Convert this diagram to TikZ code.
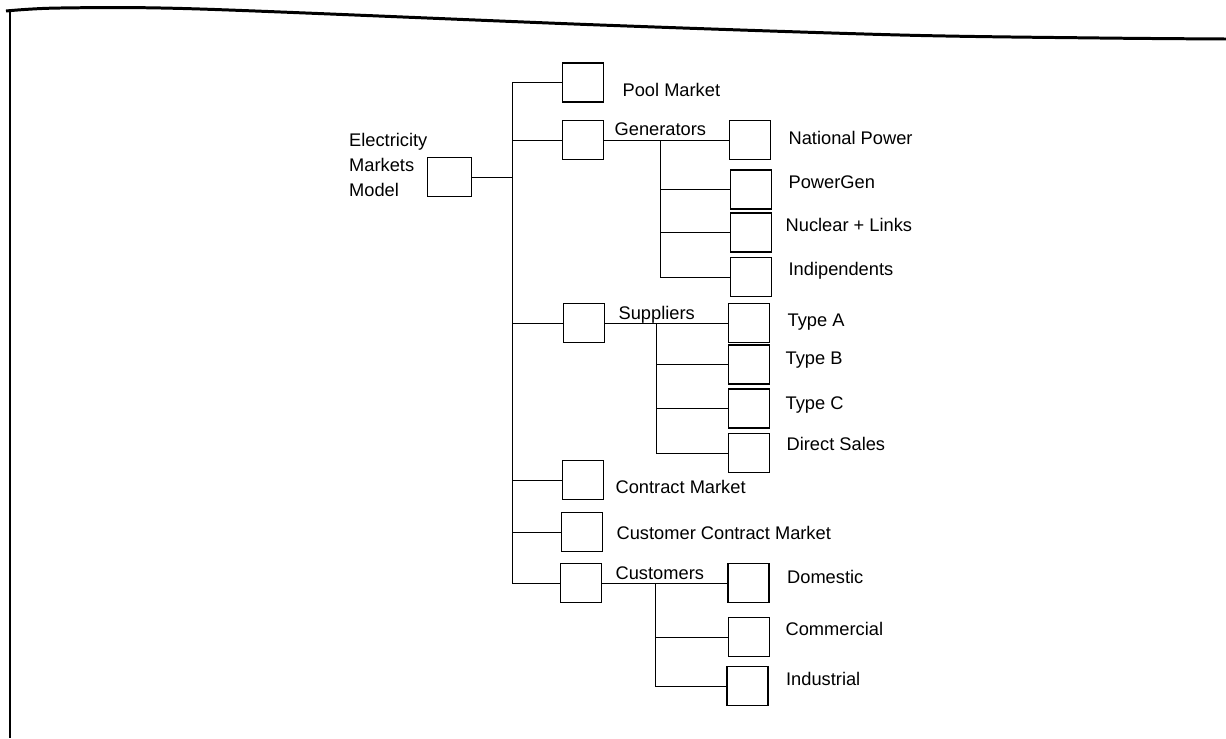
\documentclass[tikz,border=0pt]{standalone}
\usepackage{fontspec}
\setmainfont{Liberation Sans}
\usetikzlibrary{positioning}

\begin{document}
\begin{tikzpicture}[x=0.02cm,y=-0.02cm,
  box/.style={draw,line width=0.9pt,minimum width=8.2mm,minimum height=7.8mm,inner sep=0pt},
  txt/.style={font=\fontsize{10.4}{14.2}\selectfont,inner sep=0pt},
  lbl/.style={txt,text height=7.5pt,text depth=0pt},
  ln/.style={line width=0.45pt},
  frm/.style={line width=1.7pt}]
\useasboundingbox (0,0) rectangle (1226,738);
% scanned page edge
\draw[frm] plot[smooth] coordinates {(6,11) (60,8) (200,9) (600,25) (900,35) (1100,38) (1226,39)};
\draw[frm] (10,10) -- (10,738);
% model and its parts
\node[box,minimum width=8.8mm] (root) at (449.5,177) {};
\node[txt,align=left,anchor=north east,xshift=0.2mm,yshift=4.8mm] (rootlbl) at (root.north west) {Electricity\\Markets\\Model};
\node[box] (pool) at (583,82.5) {};
\node[box] (gen) at (583,140) {};
\node[box] (sup) at (584,323) {};
\node[box] (con) at (583,480) {};
\node[box] (ccm) at (582,532) {};
\node[box] (cust) at (581,583) {};
\node[lbl,right=3.6mm of pool,yshift=-1.5mm] (poollbl) {Pool Market};
\node[lbl,right=2mm of gen,yshift=2.2mm] (genlbl) {Generators};
\node[lbl,right=2.6mm of sup,yshift=2mm] (suplbl) {Suppliers};
\node[lbl,right=2.2mm of con,yshift=-1.4mm] (conlbl) {Contract Market};
\node[lbl,right=2.6mm of ccm,yshift=-0.2mm] (ccmlbl) {Customer Contract Market};
\node[lbl,right=2.6mm of cust,yshift=2mm] (custlbl) {Customers};
% generators
\node[box] (np) at (750,140) {};
\node[box] (pg) at (751,189.5) {};
\node[box] (nuc) at (751,232.5) {};
\node[box] (ind) at (751,277) {};
\node[lbl,right=3.4mm of np,yshift=0.4mm] (nplbl) {National Power};
\node[lbl,right=3.2mm of pg,yshift=1.5mm] (pglbl) {PowerGen};
\node[lbl,right=2.6mm of nuc,yshift=1.5mm] (nuclbl) {Nuclear + Links};
\node[lbl,right=3.2mm of ind,yshift=1.6mm] (indlbl) {Indipendents};
% suppliers
\node[box] (ta) at (749,323) {};
\node[box] (tb) at (749,364.5) {};
\node[box] (tc) at (749,408.5) {};
\node[box] (ds) at (749,453) {};
\node[lbl,right=3.4mm of ta,yshift=0.6mm] (talbl) {Type A};
\node[lbl,right=3mm of tb,yshift=1.3mm] (tblbl) {Type B};
\node[lbl,right=3mm of tc,yshift=1.1mm] (tclbl) {Type C};
\node[lbl,right=3.2mm of ds,yshift=1.8mm] (dslbl) {Direct Sales};
% customers
\node[box] (dom) at (748.5,583) {};
\node[box] (com) at (749,637) {};
\node[box] (indu) at (747.5,686) {};
\node[lbl,right=3.4mm of dom,yshift=1.2mm] (domlbl) {Domestic};
\node[lbl,right=3mm of com,yshift=1.6mm] (comlbl) {Commercial};
\node[lbl,right=3.4mm of indu,yshift=1.4mm] (indulbl) {Industrial};
% tree lines
\coordinate (trunk) at (512,0);
\coordinate (gtrunk) at (660,0);
\coordinate (strunk) at (656,0);
\coordinate (ctrunk) at (655,0);
\draw[ln] (root.east) -- (root.east -| trunk);
\draw[ln] (pool.west -| trunk) -- (cust.west -| trunk);
\draw[ln] (pool.west -| trunk) -- (pool.west);
\draw[ln] (gen.west -| trunk) -- (gen.west);
\draw[ln] (sup.west -| trunk) -- (sup.west);
\draw[ln] (con.west -| trunk) -- (con.west);
\draw[ln] (ccm.west -| trunk) -- (ccm.west);
\draw[ln] (cust.west -| trunk) -- (cust.west);
\draw[ln] (gen.east) -- (np.west);
\draw[ln] (gen.east -| gtrunk) |- (ind.west);
\draw[ln] (pg.west -| gtrunk) -- (pg.west);
\draw[ln] (nuc.west -| gtrunk) -- (nuc.west);
\draw[ln] (sup.east) -- (ta.west);
\draw[ln] (sup.east -| strunk) |- (ds.west);
\draw[ln] (tb.west -| strunk) -- (tb.west);
\draw[ln] (tc.west -| strunk) -- (tc.west);
\draw[ln] (cust.east) -- (dom.west);
\draw[ln] (cust.east -| ctrunk) |- (indu.west);
\draw[ln] (com.west -| ctrunk) -- (com.west);
\end{tikzpicture}
\end{document}
